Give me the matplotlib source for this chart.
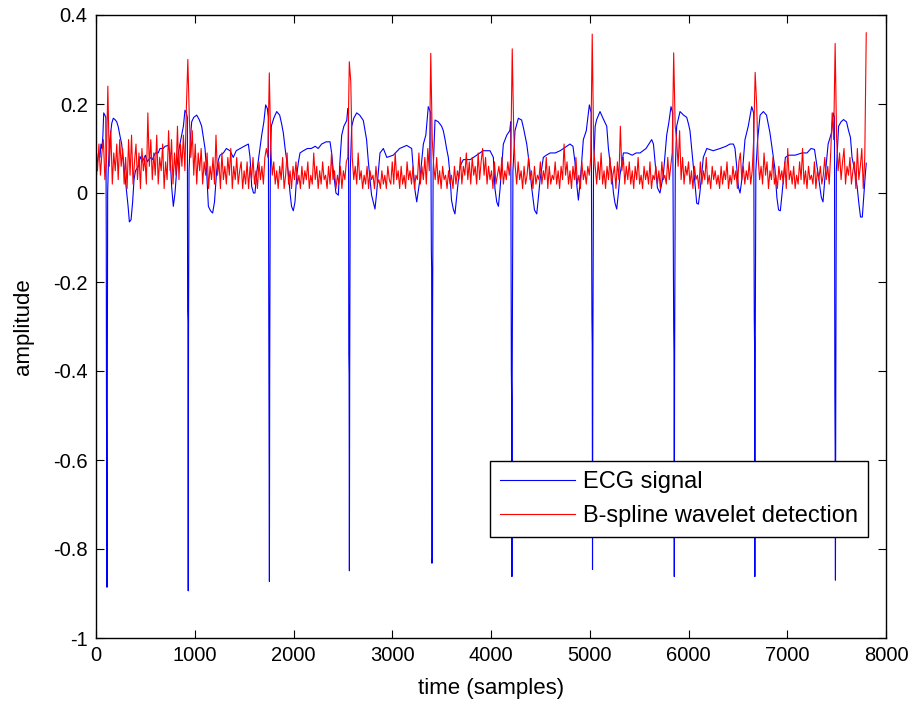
import numpy as np
import matplotlib
matplotlib.use('Agg')
import matplotlib.pyplot as plt

plt.rcParams['font.family'] = ['Liberation Sans', 'DejaVu Sans']
plt.rcParams['axes.unicode_minus'] = False

# ECG trace, (sample, amplitude), split by beats
ecg_beats_1_3 = [
    (0, 0.02), (10, 0.06), (25, 0.09), (40, 0.08), (50, 0.11), (60, 0.10), (70, 0.13), (78, 0.18), (90, 0.175), (100, 0.17),
    (104, -0.10), (106, -0.465), (109, -0.66), (111, -0.886), (114, -0.50), (118, 0.00), (125, 0.06),
    (140, 0.12), (160, 0.157), (175, 0.168), (192, 0.165), (210, 0.16), (226, 0.148), (243, 0.128), (260, 0.11), (277, 0.074),
    (294, 0.04), (311, 0.00), (325, -0.03), (338, -0.065), (355, -0.06), (371, -0.02), (385, 0.03), (400, 0.05), (429, 0.06),
    (446, 0.082), (470, 0.07), (500, 0.085), (520, 0.07), (547, 0.08), (570, 0.075), (600, 0.09), (630, 0.09), (648, 0.10),
    (680, 0.10), (700, 0.105), (732, 0.107), (749, 0.09), (766, 0.014), (783, -0.03), (800, 0.00), (820, 0.06), (834, 0.09),
    (850, 0.11), (868, 0.13), (885, 0.15), (901, 0.186), (915, 0.18), (925, 0.17),
    (928, -0.263), (931, -0.29), (934, -0.894), (937, -0.30), (942, 0.05), (955, 0.12),
    (969, 0.16), (990, 0.17), (1020, 0.175), (1045, 0.165), (1070, 0.15), (1090, 0.12), (1104, 0.10), (1120, 0.05), (1138, -0.03),
    (1160, -0.04), (1181, -0.045), (1200, -0.02), (1222, 0.05), (1240, 0.075), (1256, 0.085), (1290, 0.09), (1320, 0.10),
    (1357, 0.095), (1390, 0.08), (1420, 0.095), (1460, 0.10), (1500, 0.105), (1543, 0.11), (1560, 0.08), (1577, 0.014),
    (1595, 0.00), (1610, 0.00), (1630, 0.05), (1660, 0.10), (1678, 0.13), (1700, 0.16), (1718, 0.198), (1735, 0.19), (1745, 0.17),
    (1750, -0.30), (1753, -0.50), (1756, -0.873), (1759, -0.40), (1765, 0.05), (1775, 0.15),
    (1800, 0.168), (1830, 0.183), (1860, 0.175), (1880, 0.155), (1897, 0.135), (1915, 0.10), (1945, 0.05), (1965, 0.00),
    (1980, -0.03), (1998, -0.04), (2015, -0.02), (2033, 0.04), (2050, 0.07), (2066, 0.09), (2100, 0.095), (2140, 0.10),
    (2180, 0.10), (2220, 0.105), (2250, 0.10), (2285, 0.11), (2330, 0.115), (2370, 0.115), (2386, 0.09), (2403, 0.05),
    (2430, 0.00), (2454, -0.005), (2470, 0.07), (2488, 0.13), (2510, 0.15), (2539, 0.163), (2550, 0.19), (2557, 0.19),
]
ecg_beats_4_6 = [
    (2560, -0.36), (2563, -0.41), (2566, -0.849), (2569, -0.40), (2575, 0.05), (2589, 0.149),
    (2610, 0.168), (2640, 0.18), (2670, 0.175), (2707, 0.163), (2725, 0.14), (2740, 0.12), (2758, 0.07), (2775, 0.03),
    (2790, -0.004), (2808, -0.02), (2825, -0.036), (2842, 0.00), (2860, 0.05), (2876, 0.09), (2910, 0.10), (2945, 0.08),
    (3010, 0.085), (3075, 0.10), (3146, 0.107), (3197, 0.10), (3214, 0.05), (3231, 0.005), (3248, -0.02), (3280, 0.03),
    (3315, 0.11), (3340, 0.13), (3365, 0.194), (3390, 0.18),
    (3396, -0.13), (3399, -0.17), (3402, -0.832), (3405, -0.82), (3408, -0.30), (3414, 0.05), (3433, 0.164),
    (3466, 0.16), (3500, 0.15), (3517, 0.14), (3535, 0.12), (3550, 0.10), (3568, 0.08), (3585, 0.04), (3600, -0.016),
    (3618, -0.036), (3635, -0.047), (3652, -0.01), (3670, 0.03), (3686, 0.06), (3720, 0.075), (3790, 0.075), (3855, 0.085),
    (3920, 0.095), (3990, 0.095), (4024, 0.08), (4040, 0.01), (4058, -0.02), (4075, -0.03), (4092, 0.01), (4125, 0.11),
    (4160, 0.13), (4190, 0.14), (4200, 0.16),
    (4206, -0.40), (4209, -0.46), (4212, -0.862), (4215, -0.40), (4222, 0.05), (4243, 0.14),
    (4277, 0.168), (4310, 0.164), (4330, 0.145), (4362, 0.11), (4385, 0.07), (4412, 0.012), (4440, -0.038), (4463, -0.047),
    (4480, -0.01), (4497, 0.03), (4530, 0.08), (4560, 0.085), (4600, 0.09), (4650, 0.09), (4700, 0.095), (4733, 0.10),
    (4800, 0.11), (4830, 0.105), (4850, 0.07), (4868, 0.02), (4885, -0.016), (4905, 0.03), (4935, 0.12), (4965, 0.14),
    (4996, 0.198), (5015, 0.18),
]
ecg_beats_7_10 = [
    (5022, -0.28), (5025, -0.34), (5028, -0.846), (5031, -0.40), (5038, 0.05), (5055, 0.15),
    (5070, 0.165), (5104, 0.183), (5130, 0.17), (5172, 0.15), (5189, 0.10), (5205, 0.07), (5223, 0.043), (5240, 0.00),
    (5256, -0.023), (5273, -0.036), (5290, 0.00), (5306, 0.04), (5341, 0.09), (5380, 0.09), (5430, 0.085), (5470, 0.09),
    (5509, 0.09), (5570, 0.10), (5627, 0.12), (5645, 0.11), (5661, 0.07), (5685, 0.012), (5711, 0.00), (5745, 0.04),
    (5779, 0.13), (5800, 0.157), (5823, 0.194), (5840, 0.18),
    (5850, -0.30), (5853, -0.36), (5856, -0.862), (5859, -0.40), (5866, 0.05), (5880, 0.15),
    (5914, 0.183), (5950, 0.175), (5982, 0.17), (6000, 0.155), (6015, 0.14), (6032, 0.10), (6049, 0.06), (6066, 0.02),
    (6083, -0.023), (6100, -0.025), (6115, 0.00), (6150, 0.08), (6185, 0.10), (6250, 0.095), (6320, 0.10), (6380, 0.105),
    (6420, 0.11), (6455, 0.11), (6471, 0.10), (6488, 0.06), (6505, 0.014), (6522, 0.00), (6540, 0.03), (6572, 0.12),
    (6605, 0.15), (6640, 0.194), (6660, 0.18),
    (6666, -0.28), (6669, -0.34), (6672, -0.862), (6675, -0.40), (6682, 0.05), (6700, 0.12),
    (6725, 0.175), (6758, 0.183), (6790, 0.175), (6825, 0.135), (6860, 0.08), (6875, 0.055), (6895, -0.01), (6912, -0.038),
    (6930, -0.04), (6948, 0.00), (6981, 0.08), (7015, 0.085), (7080, 0.085), (7150, 0.09), (7200, 0.09), (7241, 0.10),
    (7276, 0.098), (7311, 0.045), (7345, -0.01), (7362, -0.02), (7380, 0.03), (7414, 0.11), (7448, 0.135), (7465, 0.18),
    (7478, 0.17),
    (7482, -0.45), (7485, -0.57), (7488, -0.87), (7491, -0.50), (7497, 0.05), (7520, 0.15),
    (7545, 0.16), (7570, 0.165), (7600, 0.16), (7621, 0.14), (7640, 0.125), (7656, 0.08), (7675, 0.06), (7690, 0.04),
    (7708, 0.014), (7725, -0.023), (7742, -0.054), (7760, -0.054), (7777, 0.00), (7790, 0.04), (7800, 0.067),
]

# detection output, one value every 15 samples
red_step = 15
red_0_1485 = [
    0.08, 0.05, 0.11, 0.04, 0.09, 0.12, 0.03, 0.07, 0.24, 0.06, 0.14, 0.02, 0.09, 0.05, 0.11, 0.03, 0.12, 0.06, 0.10, 0.02,
    0.08, 0.01, 0.12, 0.04, 0.13, 0.02, 0.07, 0.11, 0.03, 0.09, 0.01, 0.10, 0.05, 0.08, 0.02, 0.18, 0.06, 0.12, 0.03, 0.09,
    0.04, 0.13, 0.02, 0.08, 0.05, 0.11, 0.01, 0.07, 0.03, 0.14, 0.05, 0.12, 0.02, 0.09, 0.04, 0.15, 0.03, 0.11, 0.06, 0.13,
    0.05, 0.19, 0.30, 0.17, 0.08, 0.14, 0.04, 0.11, 0.02, 0.09, 0.05, 0.10, 0.02, 0.07, 0.04, 0.09, 0.01, 0.06, 0.03, 0.08,
    0.02, 0.13, 0.04, 0.07, 0.01, 0.09, 0.03, 0.06, 0.02, 0.08, 0.04, 0.10, 0.01, 0.06, 0.03, 0.08, 0.02, 0.05, 0.07, 0.01,
]
red_1500_2985 = [
    0.05, 0.02, 0.07, 0.01, 0.06, 0.03, 0.08, 0.02, 0.05, 0.01, 0.07, 0.03, 0.06, 0.02, 0.08, 0.10, 0.08, 0.27, 0.10, 0.04,
    0.07, 0.02, 0.05, 0.01, 0.06, 0.03, 0.08, 0.01, 0.04, 0.09, 0.02, 0.05, 0.01, 0.06, 0.03, 0.07, 0.02, 0.04, 0.01, 0.06,
    0.02, 0.05, 0.03, 0.07, 0.01, 0.04, 0.02, 0.09, 0.03, 0.06, 0.01, 0.05, 0.02, 0.07, 0.03, 0.04, 0.01, 0.06, 0.02, 0.09,
    0.03, 0.05, 0.01, 0.04, 0.02, 0.06, 0.01, 0.05, 0.03, 0.07, 0.08, 0.295, 0.25, 0.08, 0.03, 0.06, 0.02, 0.09, 0.03, 0.05,
    0.01, 0.04, 0.02, 0.06, 0.01, 0.05, 0.03, 0.04, 0.01, 0.06, 0.02, 0.03, 0.01, 0.05, 0.02, 0.04, 0.01, 0.06, 0.03, 0.02,
]
red_3000_4485 = [
    0.07, 0.02, 0.09, 0.03, 0.05, 0.01, 0.06, 0.02, 0.04, 0.01, 0.07, 0.03, 0.05, 0.02, 0.06, 0.01, 0.04, 0.03, 0.09, 0.02,
    0.06, 0.03, 0.08, 0.02, 0.10, 0.05, 0.314, 0.12, 0.06, 0.03, 0.08, 0.02, 0.05, 0.01, 0.06, 0.03, 0.04, 0.01, 0.05, 0.02,
    0.04, 0.01, 0.06, 0.02, 0.05, 0.03, 0.08, 0.02, 0.06, 0.04, 0.09, 0.03, 0.07, 0.02, 0.08, 0.04, 0.06, 0.02, 0.09, 0.03,
    0.07, 0.10, 0.04, 0.08, 0.02, 0.06, 0.03, 0.05, 0.01, 0.07, 0.02, 0.04, 0.06, 0.03, 0.08, 0.02, 0.05, 0.03, 0.07, 0.04,
    0.08, 0.324, 0.14, 0.06, 0.02, 0.07, 0.03, 0.05, 0.01, 0.06, 0.02, 0.04, 0.08, 0.03, 0.05, 0.01, 0.06, 0.02, 0.04, 0.03,
]
red_4500_5985 = [
    0.07, 0.02, 0.05, 0.03, 0.08, 0.01, 0.06, 0.02, 0.04, 0.03, 0.07, 0.02, 0.05, 0.01, 0.06, 0.03, 0.11, 0.04, 0.07, 0.02,
    0.05, 0.01, 0.06, 0.03, 0.08, 0.02, 0.04, 0.01, 0.07, 0.03, 0.05, 0.02, 0.06, 0.04, 0.08, 0.357, 0.10, 0.06, 0.02, 0.07,
    0.03, 0.09, 0.02, 0.05, 0.01, 0.06, 0.03, 0.08, 0.02, 0.04, 0.06, 0.01, 0.07, 0.03, 0.15, 0.05, 0.08, 0.02, 0.06, 0.03,
    0.07, 0.02, 0.05, 0.01, 0.06, 0.03, 0.08, 0.02, 0.04, 0.01, 0.06, 0.03, 0.05, 0.02, 0.07, 0.01, 0.04, 0.03, 0.06, 0.02,
    0.05, 0.01, 0.07, 0.03, 0.04, 0.02, 0.08, 0.03, 0.06, 0.09, 0.315, 0.15, 0.12, 0.06, 0.14, 0.03, 0.08, 0.02, 0.06, 0.04,
]
red_6000_7485 = [
    0.07, 0.02, 0.05, 0.01, 0.06, 0.03, 0.04, 0.01, 0.07, 0.02, 0.05, 0.03, 0.08, 0.02, 0.04, 0.01, 0.06, 0.03, 0.05, 0.02,
    0.04, 0.01, 0.06, 0.02, 0.05, 0.03, 0.07, 0.01, 0.04, 0.02, 0.06, 0.03, 0.05, 0.01, 0.07, 0.09, 0.03, 0.06, 0.02, 0.05,
    0.03, 0.07, 0.02, 0.05, 0.12, 0.271, 0.20, 0.08, 0.03, 0.06, 0.02, 0.09, 0.04, 0.07, 0.01, 0.05, 0.03, 0.08, 0.02, 0.04,
    0.01, 0.06, 0.03, 0.05, 0.02, 0.07, 0.01, 0.10, 0.03, 0.05, 0.02, 0.06, 0.01, 0.04, 0.02, 0.07, 0.03, 0.10, 0.02, 0.05,
    0.01, 0.06, 0.03, 0.04, 0.02, 0.07, 0.01, 0.05, 0.03, 0.06, 0.02, 0.04, 0.08, 0.03, 0.06, 0.02, 0.09, 0.18, 0.12, 0.336,
]
red_7500_7800 = [
    0.12, 0.05, 0.09, 0.03, 0.07, 0.10, 0.02, 0.06, 0.04, 0.08, 0.02, 0.05, 0.07, 0.01, 0.10, 0.03, 0.06, 0.10, 0.01, 0.08,
    0.36,
]

x_ticks = [0, 1000, 2000, 3000, 4000, 5000, 6000, 7000, 8000]
y_ticks = [-1, -0.8, -0.6, -0.4, -0.2, 0, 0.2, 0.4]
y_tick_labels = ['-1', '-0.8', '-0.6', '-0.4', '-0.2', '0', '0.2', '0.4']

ecg = np.array(ecg_beats_1_3 + ecg_beats_4_6 + ecg_beats_7_10)
red_v = np.array(red_0_1485 + red_1500_2985 + red_3000_4485 + red_4500_5985 + red_6000_7485 + red_7500_7800)
red_t = np.arange(len(red_v)) * red_step

fig = plt.figure(figsize=(9.14, 7.07), dpi=100)
ax = fig.add_axes([96 / 914, 69 / 707, 790 / 914, 623 / 707])

ax.plot(ecg[:, 0], ecg[:, 1], color='b', lw=0.8, label='ECG signal')
ax.plot(red_t, red_v, color='r', lw=0.8, label='B-spline wavelet detection')

ax.set_xlim(0, 8000)
ax.set_ylim(-1, 0.4)
ax.set_xticks(x_ticks)
ax.set_xticklabels([str(t) for t in x_ticks])
ax.set_yticks(y_ticks)
ax.set_yticklabels(y_tick_labels)
ax.tick_params(direction='in', length=6, width=0.8, top=True, right=True,
               labelsize=14.5, pad=6)
for s in ax.spines.values():
    s.set_linewidth(1.0)

ax.set_xlabel('time (samples)', fontsize=16, labelpad=9)
ax.set_ylabel('amplitude', fontsize=16, labelpad=14)

leg = ax.legend(loc='lower left', bbox_to_anchor=(0.4987, 0.162), fontsize=17,
                frameon=True, fancybox=False, edgecolor='black', framealpha=1,
                borderaxespad=0, handlelength=3.2, handletextpad=0.35,
                labelspacing=0.53, borderpad=0.41)
leg.get_frame().set_linewidth(1.0)

fig.savefig('out.png', dpi=100)
